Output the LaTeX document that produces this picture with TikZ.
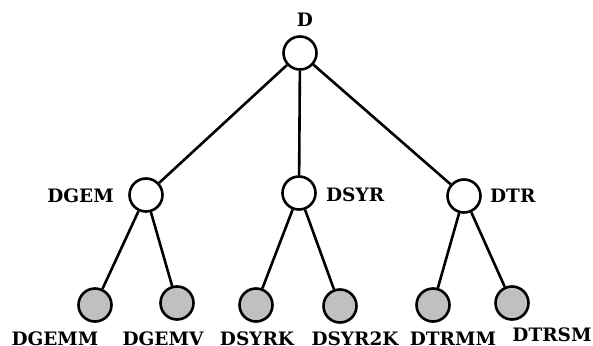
\documentclass[tikz,border=0pt]{standalone}
\usepackage{fontspec}
\setmainfont{DejaVu Serif}
\definecolor{leafgray}{RGB}{192,192,192}
\begin{document}
\begin{tikzpicture}[x=1pt,y=-1pt,
  inner/.style={circle,draw=black,line width=2.6pt,fill=white,minimum size=33pt,inner sep=0pt},
  leaf/.style={circle,draw=black,line width=2.6pt,fill=leafgray,minimum size=33pt,inner sep=0pt},
  lbl/.style={inner sep=0pt,font=\fontsize{18.5}{21}\selectfont\bfseries},
  edge/.style={line width=2.6pt}]
\useasboundingbox (0,0) rectangle (593,345);
\clip (0,0) rectangle (593,345);
% internal nodes
\node[inner] (d) at (300,53) {};
\node[inner] (dgem) at (146,195) {};
\node[inner] (dsyr) at (299,193) {};
\node[inner] (dtr) at (464,196) {};
% leaves
\node[leaf] (dgemm) at (95,305) {};
\node[leaf] (dgemv) at (177,303) {};
\node[leaf] (dsyrk) at (256,305) {};
\node[leaf] (dsyr2k) at (340,306) {};
\node[leaf] (dtrmm) at (433,305) {};
\node[leaf] (dtrsm) at (512,303) {};
% edges
\draw[edge] (d) -- (dgem);
\draw[edge] (d) -- (dsyr);
\draw[edge] (d) -- (dtr);
\draw[edge] (dgem) -- (dgemm);
\draw[edge] (dgem) -- (dgemv);
\draw[edge] (dsyr) -- (dsyrk);
\draw[edge] (dsyr) -- (dsyr2k);
\draw[edge] (dtr) -- (dtrmm);
\draw[edge] (dtr) -- (dtrsm);
% labels
\node[lbl] (ld) at (305,19.5) {D};
\node[lbl,anchor=east] (ldgem) at (114,195.5) {DGEM};
\node[lbl,anchor=west] (ldsyr) at (326,195) {DSYR};
\node[lbl,anchor=west] (ldtr) at (490,196) {DTR};
\node[lbl] (ldgemm) at (55,339) {DGEMM};
\node[lbl] (ldgemv) at (163,339) {DGEMV};
\node[lbl] (ldsyrk) at (257,339) {DSYRK};
\node[lbl] (ldsyr2k) at (355,339) {DSYR2K};
\node[lbl] (ldtrmm) at (453,339) {DTRMM};
\node[lbl] (ldtrsm) at (552,335) {DTRSM};
\end{tikzpicture}
\end{document}
